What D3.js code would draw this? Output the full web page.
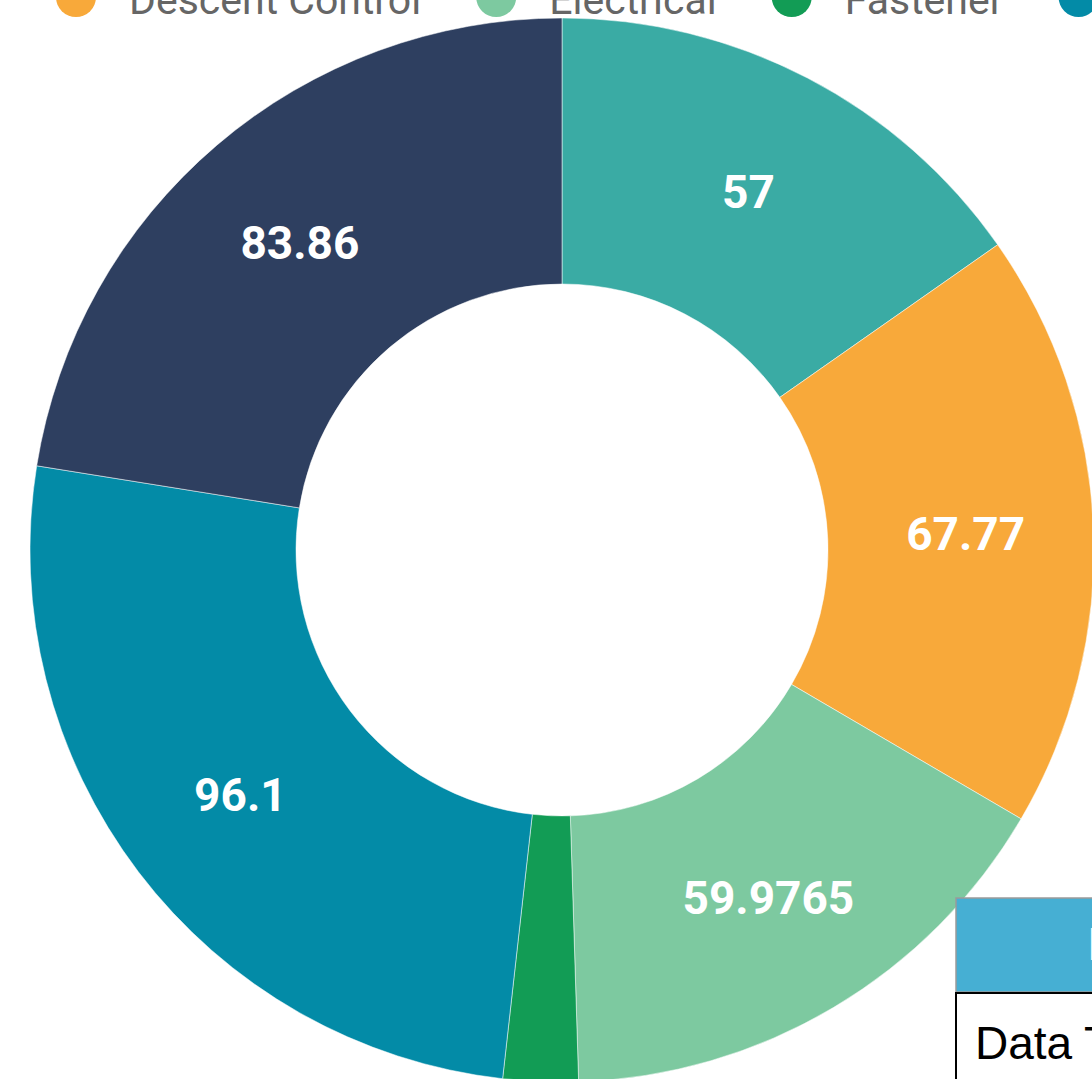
<!DOCTYPE html>
<html>
<head>
<meta charset="utf-8">
<script src="https://cdn.jsdelivr.net/npm/d3@7"></script>
<style>
	html, body { margin: 0; padding: 0; background: #fff; overflow: hidden; }
	svg { display: block; }
</style>
</head>
<body>
<div class="svg-container"></div>
<script>
(function () {

	"use strict";

	// data
	var categories 	= [ "Chemical", "Descent Control", "Electrical", "Fastener", "Hardware", "Mechanical" ];
	var values 		= [ 57, 67.77, 59.9765, 8.5, 96.1, 83.86 ];
	var colors 		= [ "#3aaba4", "#f8a93a", "#7dc9a0", "#129c55", "#038ba7", "#2e3f60" ];
	var table_head 	= [ "Data" ];
	var table_rows 	= [ "Data Table" ];

	var width 		= 1092,
		height 		= 1079,
		cx 			= 562,
		cy 			= 550,
		outer_r 	= 532,
		inner_r 	= 266,
		label_r 	= 404;

	var svg = d3.select(".svg-container").append("svg")
		.attr("width", width)
		.attr("height", height);

	// donut
	var pie = d3.pie().sort(null).value(function (d) { return d; });
	var arc = d3.arc().innerRadius(inner_r).outerRadius(outer_r);
	var label_arc = d3.arc().innerRadius(label_r).outerRadius(label_r);

	var donut = svg.append("g")
		.attr("transform", "translate(" + cx + "," + cy + ")");

	var slices = pie(values);

	donut.selectAll(".slice")
		.data(slices)
		.enter()
		.append("path")
		.attr("class", "slice")
		.attr("d", arc)
		.attr("fill", function (d, i) { return colors[i]; })
		.attr("stroke", "#ffffff")
		.attr("stroke-opacity", 0.5)
		.attr("stroke-width", 1);

	donut.selectAll(".label")
		.data(slices.filter(function (d) { return ( d.endAngle - d.startAngle ) > 0.3; }))
		.enter()
		.append("text")
		.attr("class", "label")
		.attr("transform", function (d) { return "translate(" + label_arc.centroid(d) + ")"; })
		.attr("text-anchor", "middle")
		.attr("dy", "0.36em")
		.style("font-family", "Roboto, sans-serif")
		.style("font-weight", "bold")
		.style("font-size", "46px")
		.style("fill", "#ffffff")
		.text(function (d) { return d.value; });

	// legend
	var legend = svg.append("g").attr("class", "legend");

	var items = legend.selectAll(".item")
		.data(categories)
		.enter()
		.append("g")
		.attr("class", "item");

	items.append("circle")
		.attr("r", 20)
		.attr("cy", -3)
		.attr("fill", function (d, i) { return colors[i]; });

	items.append("text")
		.attr("x", 53)
		.attr("y", 14)
		.style("font-family", "Roboto, sans-serif")
		.style("font-size", "41px")
		.style("fill", "#666666")
		.text(function (d) { return d; });

	var offsets = [], x = 0;
	items.each(function (d, i) {
		offsets.push(x);
		x += 53 + d3.select(this).select("text").node().getComputedTextLength() + 75;
	});
	var shift = 76 - offsets[1];
	items.attr("transform", function (d, i) { return "translate(" + ( offsets[i] + shift ) + ",0)"; });

	// data table
	var table = svg.append("g")
		.attr("class", "table")
		.attr("transform", "translate(956,898)");

	table.append("rect")
		.attr("x", 0)
		.attr("y", 0)
		.attr("width", 400)
		.attr("height", 94)
		.attr("fill", "#46afd3")
		.attr("stroke", "#9a9a9a")
		.attr("stroke-width", 1.5);

	table.append("text")
		.attr("x", 132)
		.attr("y", 62)
		.style("font-family", "'Liberation Sans', Arial, sans-serif")
		.style("font-weight", "bold")
		.style("font-size", "46px")
		.style("fill", "#ffffff")
		.text(table_head[0]);

	table.append("rect")
		.attr("x", 0)
		.attr("y", 95)
		.attr("width", 400)
		.attr("height", 200)
		.attr("fill", "#ffffff")
		.attr("stroke", "#000000")
		.attr("stroke-width", 2);

	table.selectAll(".row")
		.data(table_rows)
		.enter()
		.append("text")
		.attr("class", "row")
		.attr("x", 19)
		.attr("y", function (d, i) { return 161 + i * 94; })
		.style("font-family", "'Liberation Sans', Arial, sans-serif")
		.style("font-size", "46px")
		.style("fill", "#000000")
		.text(function (d) { return d; });

})();
</script>
</body>
</html>
